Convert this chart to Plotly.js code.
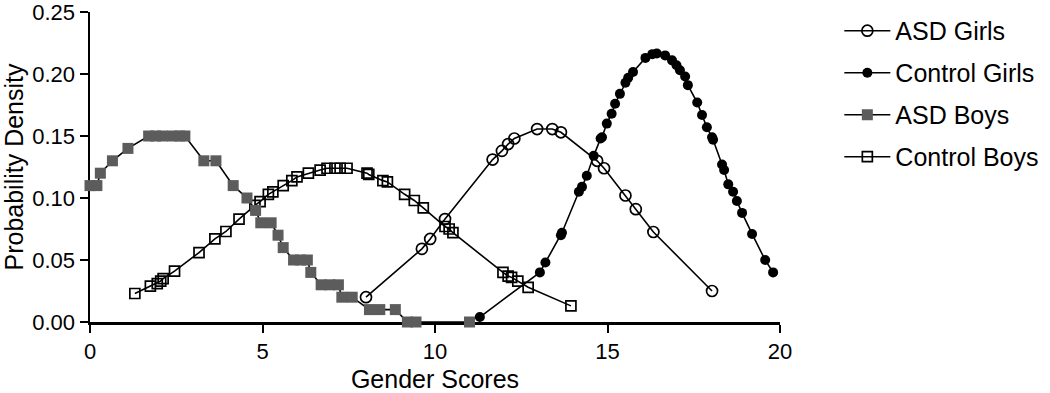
<!DOCTYPE html>
<html>
<head>
<meta charset="utf-8">
<script src="https://cdn.plot.ly/plotly-3.0.1.min.js"></script>
<style>html,body{margin:0;padding:0;background:#fff;}#chart{width:1050px;height:393px;}</style>
</head>
<body>
<div id="chart"></div>
<script>
// ASD Girls
var asdGirlsX = [8.0, 9.62, 9.86, 10.29, 11.67, 11.94, 12.12, 12.3, 12.96, 13.4, 13.65, 14.7, 14.9, 15.52, 15.82, 16.33, 18.03];
var asdGirlsY = [0.020, 0.059, 0.067, 0.083, 0.131, 0.138, 0.1435, 0.148, 0.1556, 0.1556, 0.153, 0.130, 0.124, 0.102, 0.091, 0.0726, 0.025];

// Control Girls
var ctrlGirlsX = [11.3, 13.04, 13.2, 13.65, 13.68, 14.17, 14.26, 14.4, 14.6, 14.8, 14.84, 14.98, 15.12, 15.22, 15.36, 15.52, 15.6, 15.74, 16.1, 16.3, 16.43, 16.67, 16.87, 17.0, 17.1, 17.25, 17.33, 17.6, 17.74, 17.88, 18.03, 18.06, 18.32, 18.38, 18.5, 18.64, 18.75, 18.9, 19.19, 19.57, 19.8];
var ctrlGirlsY = [0.004, 0.040, 0.048, 0.070, 0.072, 0.105, 0.109, 0.118, 0.134, 0.148, 0.149, 0.160, 0.168, 0.176, 0.184, 0.193, 0.197, 0.2016, 0.213, 0.216, 0.2165, 0.215, 0.211, 0.207, 0.203, 0.198, 0.191, 0.177, 0.167, 0.157, 0.149, 0.147, 0.127, 0.1226, 0.111, 0.105, 0.0976, 0.088, 0.071, 0.050, 0.040];

// ASD Boys
var asdBoysX = [0.0, 0.2, 0.3, 0.65, 1.1, 1.7, 1.9, 2.1, 2.4, 2.6, 2.75, 3.3, 3.65, 4.15, 4.55, 4.8, 4.95, 5.25, 5.45, 5.6, 5.9, 6.1, 6.3, 6.4, 6.7, 6.95, 7.2, 7.3, 7.6, 8.1, 8.4, 8.85, 9.2, 9.45, 11.0];
var asdBoysY = [0.11, 0.11, 0.12, 0.13, 0.14, 0.15, 0.15, 0.15, 0.15, 0.15, 0.15, 0.13, 0.13, 0.11, 0.10, 0.09, 0.08, 0.08, 0.07, 0.06, 0.05, 0.05, 0.05, 0.04, 0.03, 0.03, 0.03, 0.02, 0.02, 0.01, 0.01, 0.01, 0.0, 0.0, 0.0];

// Control Boys
var ctrlBoysX = [1.3, 1.75, 1.95, 2.05, 2.12, 2.45, 3.16, 3.62, 3.94, 4.32, 4.78, 4.93, 5.17, 5.3, 5.6, 5.85, 6.0, 6.33, 6.67, 6.87, 7.1, 7.25, 7.45, 8.03, 8.08, 8.49, 8.62, 9.12, 9.4, 9.66, 10.29, 10.41, 10.52, 11.97, 12.12, 12.22, 12.4, 12.7, 13.94];
var ctrlBoysY = [0.023, 0.029, 0.031, 0.033, 0.035, 0.041, 0.056, 0.067, 0.073, 0.083, 0.094, 0.097, 0.103, 0.105, 0.110, 0.114, 0.117, 0.120, 0.1225, 0.124, 0.124, 0.124, 0.124, 0.120, 0.119, 0.114, 0.113, 0.103, 0.098, 0.092, 0.077, 0.075, 0.072, 0.040, 0.037, 0.036, 0.033, 0.028, 0.013];

var xTicks = [0, 5, 10, 15, 20];
var yTicks = [0.00, 0.05, 0.10, 0.15, 0.20, 0.25];
var yTickText = ['0.00', '0.05', '0.10', '0.15', '0.20', '0.25'];

var lineStyle = {color: '#000000', width: 1.6};

var traces = [
  {name: 'Control Boys', x: ctrlBoysX, y: ctrlBoysY, mode: 'lines+markers', line: lineStyle,
   marker: {symbol: 'square-open', size: 10, color: '#000000', line: {width: 1.7, color: '#000000'}},
   legendrank: 4, legendgroup: 'd', cliponaxis: false},
  {name: 'ASD Boys', x: asdBoysX, y: asdBoysY, mode: 'lines+markers', line: lineStyle,
   marker: {symbol: 'square', size: 11, color: '#5c5c5c', line: {width: 0}},
   legendrank: 3, legendgroup: 'c', cliponaxis: false},
  {name: 'ASD Girls', x: asdGirlsX, y: asdGirlsY, mode: 'lines+markers', line: lineStyle,
   marker: {symbol: 'circle-open', size: 11, color: '#000000', line: {width: 1.7, color: '#000000'}},
   legendrank: 1, legendgroup: 'a', cliponaxis: false},
  {name: 'Control Girls', x: ctrlGirlsX, y: ctrlGirlsY, mode: 'lines+markers', line: lineStyle,
   marker: {symbol: 'circle', size: 10, color: '#000000'},
   legendrank: 2, legendgroup: 'b', cliponaxis: false}
];

var layout = {
  width: 1050, height: 393,
  margin: {l: 90, r: 270, t: 12, b: 71, pad: 0, autoexpand: false},
  paper_bgcolor: '#ffffff', plot_bgcolor: '#ffffff',
  font: {family: 'Liberation Sans, Arial, sans-serif', color: '#000000', size: 22},
  showlegend: true,
  legend: {x: 1.086, y: 1.013, xanchor: 'left', yanchor: 'top', traceorder: 'grouped', tracegroupgap: 6.5,
           itemwidth: 46,
           font: {size: 25, color: '#000000'}, bgcolor: 'rgba(0,0,0,0)', borderwidth: 0},
  xaxis: {range: [0, 20], tickvals: xTicks, ticktext: xTicks.map(String), showgrid: false, zeroline: false,
          showline: true, linecolor: '#000000', linewidth: 2.5, ticks: 'outside', ticklen: 8, tickwidth: 2,
          tickcolor: '#000000', tickfont: {size: 22}, layer: 'below traces', automargin: false,
          ticklabeloverflow: 'allow',
          title: {text: 'Gender Scores', font: {size: 25}, standoff: 8}},
  yaxis: {range: [0, 0.25], tickvals: yTicks, ticktext: yTickText, showgrid: false, zeroline: false,
          showline: true, linecolor: '#000000', linewidth: 2.5, ticks: 'outside', ticklen: 8, tickwidth: 2,
          tickcolor: '#000000', tickfont: {size: 22}, layer: 'below traces', automargin: false,
          ticklabeloverflow: 'allow',
          title: {text: 'Probability Density', font: {size: 25}, standoff: 5}}
};

Plotly.newPlot('chart', traces, layout, {displayModeBar: false, staticPlot: true});
</script>
</body>
</html>
